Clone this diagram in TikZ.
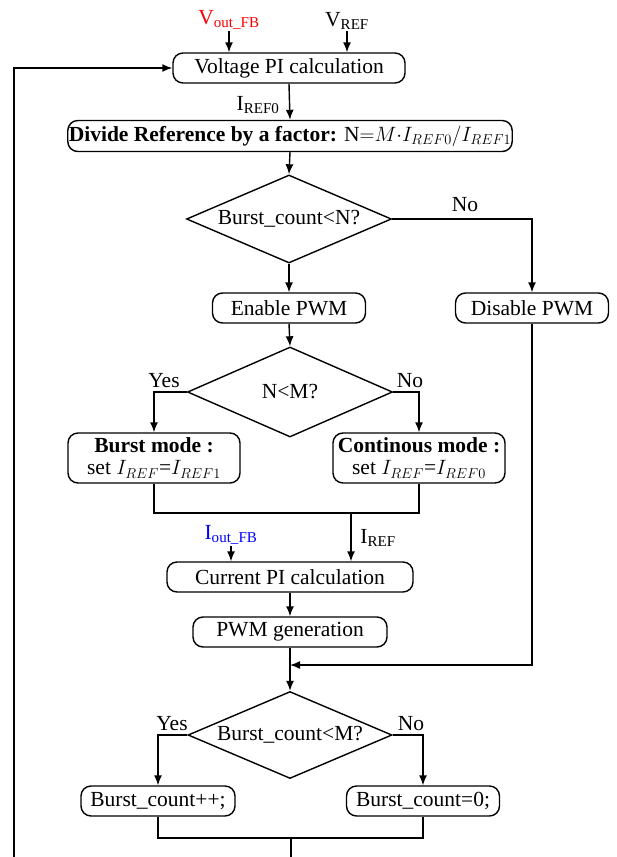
\documentclass[tikz,border=0pt]{standalone}
\usepackage{amsmath, amssymb}
\usepackage{fontspec}
\setmainfont{Liberation Serif}
\usepackage{tikz}
\usetikzlibrary{arrows.meta, positioning}
\usetikzlibrary{shapes.geometric}
\definecolor{fbred}{rgb}{1.0, 0.0, 0.0}
\definecolor{fbblue}{rgb}{0.0, 0.0, 1.0}
\def\boxheight{30pt}
\tikzset{
  every node/.style={font=\fontsize{21.5}{25}\selectfont, inner sep=1pt},
  blk/.style={draw, rounded corners=10pt, line width=1.4pt, minimum height=\boxheight, inner sep=1pt},
  dec/.style={draw, diamond, line width=1.4pt, aspect=2.3, inner sep=0pt},
  arr/.style={line width=1.4pt, -{Latex[length=10pt,width=8pt]}},
  ln/.style={line width=1.4pt},
}

\begin{document}
\begin{tikzpicture}[x=1pt, y=-1pt]
  \useasboundingbox (0,0) rectangle (616,857);
  %begin top part

    \node[anchor=south, text=fbred] (vfb) at (229,31) {V\textsubscript{out\_FB}};
    \node[anchor=south] (vref) at (347,31) {V\textsubscript{REF}};
    \node[blk, minimum width=232pt] (vpi) at (289,68) {Voltage PI calculation};
    \node[blk, minimum width=444pt, minimum height=31pt] (div) at (290,136)
      {\textbf{Divide Reference by a factor:} N$\mathord{=}M\mathord{\cdot}I_{REF0}/I_{REF1}$};
    \node (iref0) at (258,105) {I\textsubscript{REF0}};

    \draw[arr] (vfb.south) -- (vfb.south |- vpi.north);
    \draw[arr] (vref.south) -- (vref.south |- vpi.north);
    \draw[arr] (vpi.south) -- (div.north);

  %first decision
    \node[dec, minimum width=205pt, minimum height=88pt] (d1) at (289,219) {Burst\_count<N?};
    \node[blk, minimum width=153pt] (en) at (289,308) {Enable PWM};
    \node[blk, minimum width=153pt] (dis) at (532,308) {Disable PWM};
    \node (no1) at (465,205) {No};
    \draw[arr] (div.south) -- (d1.north);
    \draw[arr] (d1.south) -- (en.north);
    \draw[arr] (d1.east) -| (dis.north);

  %mode decision
    \node[dec, minimum width=205pt, minimum height=90pt] (d2) at (290,392) {N<M?};
    \node (yes2) at (164,381) {Yes};
    \node (no2) at (410,381) {No};
    \node[blk, minimum width=172pt, minimum height=50pt, align=center] (burst) at (154,458)
      {\textbf{Burst mode :}\\[-3pt] set $I_{REF}$=$I_{REF1}$};
    \node[blk, minimum width=172pt, minimum height=50pt, align=center] (cont) at (419,458)
      {\textbf{Continous mode :}\\[-3pt] set $I_{REF}$=$I_{REF0}$};
    \draw[arr] (en.south) -- (d2.north);
    \draw[arr] (d2.west) -| (burst.north);
    \draw[arr] (d2.east) -| (cont.north);

  %current loop
    \coordinate (m1) at (351,513);
    \node[blk, minimum width=246pt] (cpi) at (290,577) {Current PI calculation};
    \node[blk, minimum width=194pt] (pwm) at (290,632) {PWM generation};
    \node[anchor=south, text=fbblue] (ifb) at (231,546) {I\textsubscript{out\_FB}};
    \node (iref) at (378,538) {I\textsubscript{REF}};
    \draw[ln] (burst.south) |- (m1) -| (cont.south);
    \draw[arr] (m1) -- (m1 |- cpi.north);
    \draw[arr] (ifb.south) -- (ifb.south |- cpi.north);
    \draw[arr] (cpi.south) -- (pwm.north);

  %burst counter
    \coordinate (j) at (290,665);
    \node[dec, minimum width=204pt, minimum height=87pt] (d3) at (290,735) {Burst\_count<M?};
    \node (yes3) at (172,724) {Yes};
    \node (no3) at (411,724) {No};
    \node[blk, minimum width=154pt] (inc) at (158,801) {Burst\_count++;};
    \node[blk, minimum width=153pt] (zero) at (423,801) {Burst\_count=0;};
    \draw[arr] (dis.south) |- (j);
    \draw[arr] (pwm.south) -- (d3.north);
    \draw[arr] (d3.west) -| (inc.north);
    \draw[arr] (d3.east) -| (zero.north);

    \coordinate (m2) at (291,838);
    \coordinate (out) at (291,857);
    \coordinate (lp) at (14,857);
    \draw[ln] (inc.south) |- (m2) -| (zero.south);
    \draw[ln] (m2) -- (out);
    \draw[arr] (lp) |- (vpi.west);

\end{tikzpicture}
\end{document}
